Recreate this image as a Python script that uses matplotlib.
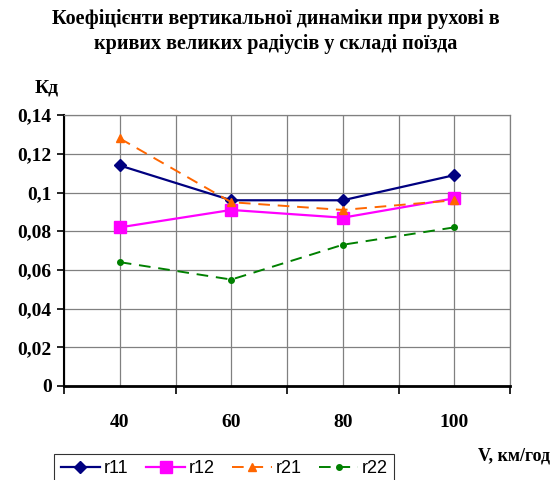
import matplotlib
matplotlib.use("Agg")
import matplotlib.pyplot as plt
import numpy as np

# Speeds (categories) and dynamic coefficients for each curve
speeds = ["40", "60", "80", "100"]
r11 = [0.114, 0.096, 0.096, 0.109]
r12 = [0.082, 0.091, 0.087, 0.097]
r21 = [0.128, 0.095, 0.091, 0.096]
r22 = [0.064, 0.055, 0.073, 0.082]
y_ticks = [0, 0.02, 0.04, 0.06, 0.08, 0.10, 0.12, 0.14]
y_labels = ["0", "0,02", "0,04", "0,06", "0,08", "0,1", "0,12", "0,14"]

serif = "Liberation Serif"
sans = "Liberation Sans"

fig = plt.figure(figsize=(5.52, 4.8), dpi=100)
ax = fig.add_axes([0.116, 0.196, 0.808, 0.564])

x = np.arange(len(speeds))
ax.plot(x, r11, color="#000080", lw=1.6, marker="D", ms=6, label="r11")
ax.plot(x, r12, color="#FF00FF", lw=1.6, marker="s", ms=8, label="r12")
ax.plot(x, r21, color="#FF6600", lw=1.4, ls=(0, (6, 4)), marker="^", ms=6, label="r21")
ax.plot(x, r22, color="#008000", lw=1.4, ls=(0, (6, 4)), marker="o", ms=4, label="r22")

ax.set_xlim(-0.5, len(speeds) - 0.5)
ax.set_ylim(0, 0.14)
ax.set_yticks(y_ticks)
ax.set_yticklabels(y_labels, fontfamily=serif, fontweight="bold", fontsize=14)

# Category boundaries carry tick marks; grid lines at boundaries and centres
ax.set_xticks(np.arange(-0.5, len(speeds), 1.0))
ax.set_xticklabels([""] * (len(speeds) + 1))
ax.set_xticks(x, minor=True)
ax.set_xticklabels(speeds, minor=True, fontfamily=serif, fontweight="bold", fontsize=14)
ax.tick_params(axis="x", which="minor", length=0, pad=20)
ax.tick_params(axis="x", which="major", length=6, width=1.2, direction="out")
ax.tick_params(axis="y", length=5, width=1.2, direction="out", pad=4)

ax.grid(True, which="both", axis="x", color="#808080", lw=0.9)
ax.grid(True, which="major", axis="y", color="#808080", lw=0.9)
ax.set_axisbelow(True)

for side in ("top", "right"):
    ax.spines[side].set_color("#808080")
    ax.spines[side].set_linewidth(0.9)
ax.spines["left"].set_color("black")
ax.spines["left"].set_linewidth(1.5)
ax.spines["bottom"].set_color("black")
ax.spines["bottom"].set_linewidth(2)

fig.text(0.5, 0.960, "Коефіцієнти вертикальної динаміки при рухові в",
         ha="center", va="center", fontfamily=serif, fontweight="bold", fontsize=14.5)
fig.text(0.5, 0.908, "кривих великих радіусів у складі поїзда",
         ha="center", va="center", fontfamily=serif, fontweight="bold", fontsize=14.5)
fig.text(0.063, 0.817, "Кд", ha="left", va="center", fontfamily=serif,
         fontweight="bold", fontsize=14)
fig.text(0.997, 0.05, "V, км/год", ha="right", va="center", fontfamily=serif,
         fontweight="bold", fontsize=13)

leg = fig.legend(loc="upper left", bbox_to_anchor=(0.082, 0.073), ncol=4,
                 frameon=True, fancybox=False, edgecolor="black",
                 handlelength=2.2, handletextpad=0.2, columnspacing=0.95,
                 borderpad=0.35, prop={"family": sans, "size": 13})
leg.get_frame().set_linewidth(0.8)

fig.savefig("out.png", dpi=100, facecolor="white")
